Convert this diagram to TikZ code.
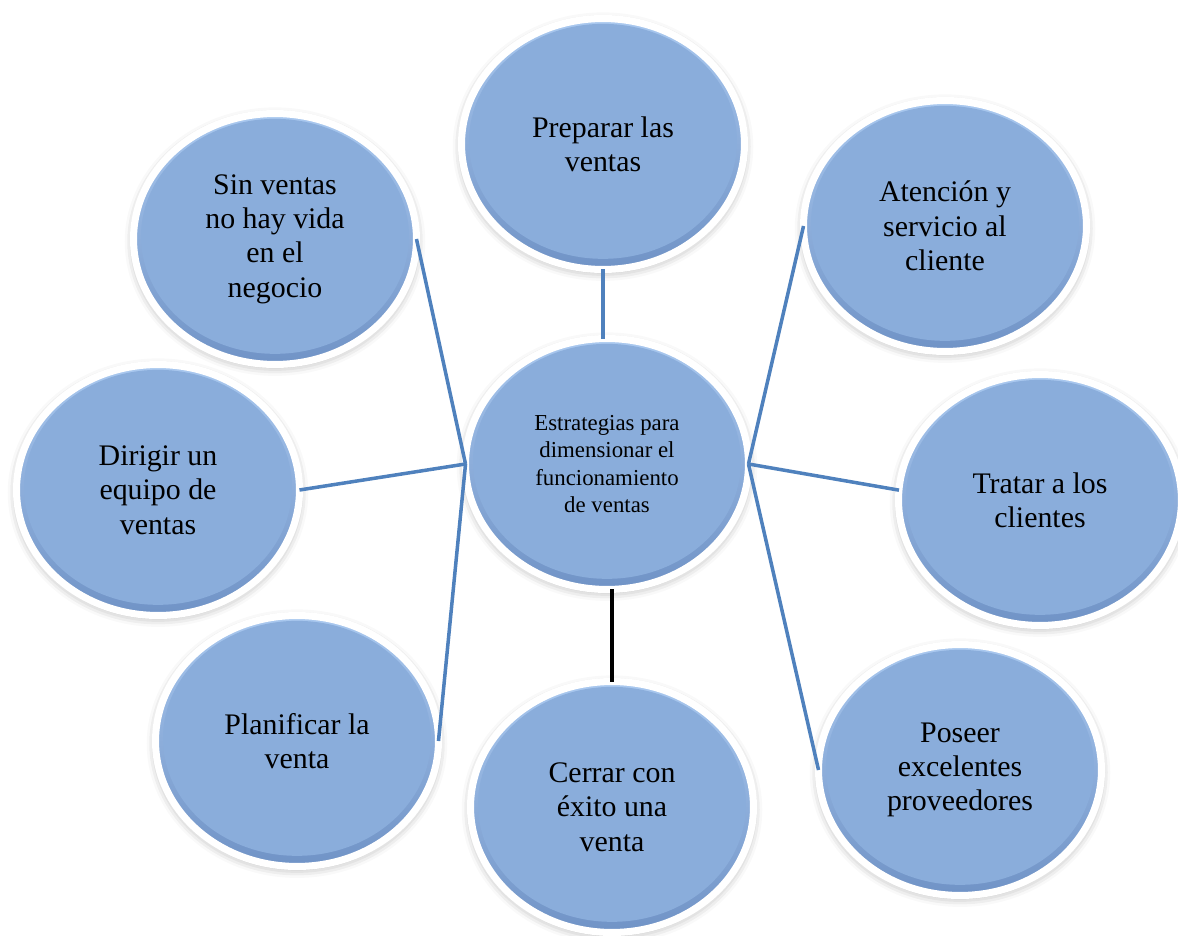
\documentclass[tikz,border=0pt]{standalone}
\usepackage{fontspec}
\setmainfont{Liberation Serif}
\usetikzlibrary{shapes.geometric,shadows.blur}
\definecolor{azul}{HTML}{8AADDB}
\definecolor{azulclaro}{HTML}{A9C8EF}
\definecolor{azuloscuro}{HTML}{7093C6}
\definecolor{linea}{HTML}{4F81BD}
\begin{document}
\begin{tikzpicture}[x=0.02cm,y=-0.02cm,
  idea/.style={ellipse,draw=white,line width=4pt,top color=azulclaro,bottom color=azuloscuro,
    minimum width=5.66cm,minimum height=5.02cm,inner sep=0pt,outer sep=0pt,align=center,
    blur shadow={shadow xshift=0pt,shadow yshift=-1.5pt,shadow blur radius=5pt,shadow opacity=35},
    path picture={\fill[azul] ([yshift=1.5pt]path picture bounding box.center) ellipse [x radius=2.68cm,y radius=2.35cm];},
    font=\fontsize{17}{19.5}\selectfont},
  nucleo/.style={idea,font=\fontsize{13}{15.7}\selectfont},
  enlace/.style={draw=linea,line width=2pt}]
  \useasboundingbox (0,0) rectangle (1178,936);
  \node[nucleo] (centro) at (607,464) {Estrategias para\\dimensionar el\\funcionamiento\\de ventas};
  \node[idea] (preparar) at (603,144) {Preparar las\\ventas};
  \node[idea] (sinventas) at (275,239) {Sin ventas\\no hay vida\\en el\\negocio};
  \node[idea] (atencion) at (945,226) {Atención y\\servicio al\\cliente};
  \node[idea] (dirigir) at (158,490) {Dirigir un\\equipo de\\ventas};
  \node[idea] (tratar) at (1040,500) {Tratar a los\\clientes};
  \node[idea] (planificar) at (297,741) {Planificar la\\venta};
  \node[idea] (cerrar) at (612,807) {Cerrar con\\éxito una\\venta};
  \node[idea] (poseer) at (960,770) {Poseer\\excelentes\\proveedores};
  \draw[enlace] (preparar.south) -- (preparar.south |- centro.north);
  \draw[enlace] (sinventas.east) -- (centro.west);
  \draw[enlace] (dirigir.east) -- (centro.west);
  \draw[enlace] (planificar.east) -- (centro.west);
  \draw[enlace] (atencion.west) -- (centro.east);
  \draw[enlace] (centro.east) -- (tratar.176);
  \draw[enlace] (centro.east) -- (poseer.west);
  \draw[line width=2.4pt,black] (centro.south -| cerrar.north) -- (cerrar.north);
\end{tikzpicture}
\end{document}
